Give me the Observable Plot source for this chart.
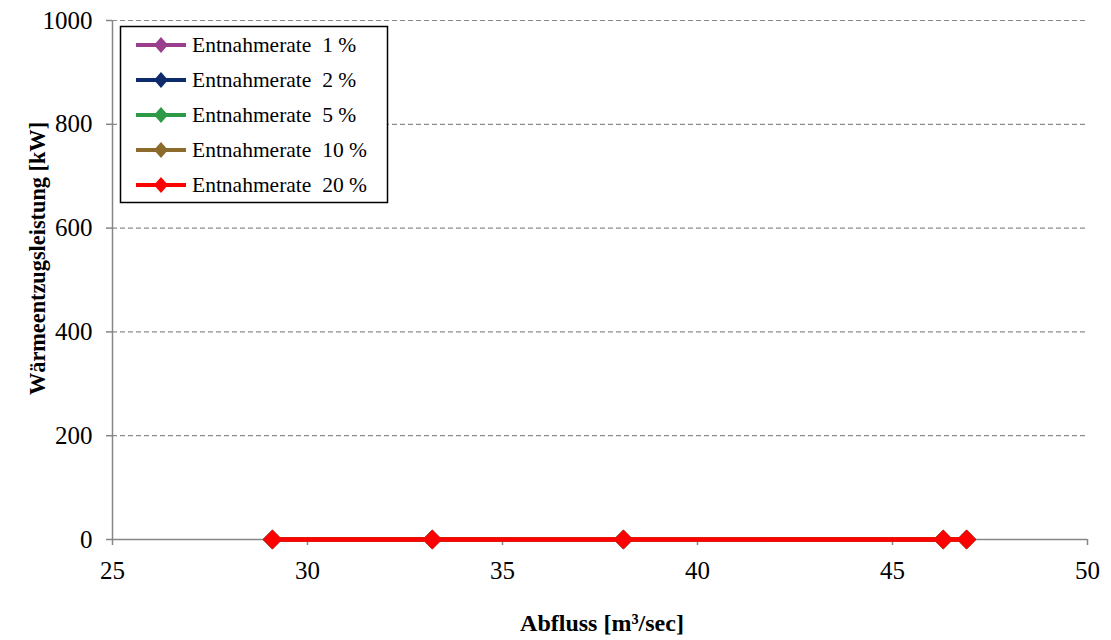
<!DOCTYPE html>
<html>
<head>
<meta charset="utf-8">
<script src="https://cdn.jsdelivr.net/npm/d3@7"></script>
<script src="https://cdn.jsdelivr.net/npm/@observablehq/plot@0.6"></script>
<style>
  html, body { margin: 0; padding: 0; background: #fff; }
  #chart svg { display: block; }
</style>
</head>
<body>
<div id="chart"></div>
<script>
// ---- data ----
const abfluss = [29.1, 33.2, 38.1, 46.3, 46.9];
const seriesNames = ["Entnahmerate 1 %", "Entnahmerate 2 %", "Entnahmerate 5 %", "Entnahmerate 10 %", "Entnahmerate 20 %"];
const rate1  = [0, 0, 0, 0, 0];
const rate2  = [0, 0, 0, 0, 0];
const rate5  = [0, 0, 0, 0, 0];
const rate10 = [0, 0, 0, 0, 0];
const rate20 = [0, 0, 0, 0, 0];
const seriesColors = ["#993f8e", "#0d2b6b", "#2e9a48", "#8b6a2b", "#ff0000"];
const xTicks = [25, 30, 35, 40, 45, 50];
const yTicks = [0, 200, 400, 600, 800, 1000];
const xTitle = "Abfluss [m³/sec]";
const yTitle = "Wärmeentzugsleistung [kW]";

const seriesValues = [rate1, rate2, rate5, rate10, rate20];
const rows = [];
seriesNames.forEach((name, i) => {
  seriesValues[i].forEach((v, j) => rows.push({series: name, x: abfluss[j], y: v, order: i}));
});

const font = "Liberation Serif";
const axisGrey = "#868686";

const marks = [
  Plot.gridY(yTicks.filter(d => d > 0), {stroke: "#8a8a8a", strokeOpacity: 1, strokeWidth: 1.2, strokeDasharray: "5,3"}),
  Plot.ruleX([25], {stroke: axisGrey, strokeWidth: 1.5}),
  Plot.ruleY([0], {stroke: axisGrey, strokeWidth: 1.5}),
  Plot.axisY({ticks: yTicks, tickFormat: d => String(d), tickSize: 6, tickPadding: 14, stroke: axisGrey, strokeWidth: 1.5, label: null, fontSize: 25, fontFamily: font, fill: "#000"}),
  Plot.axisX({ticks: xTicks, tickFormat: d => String(d), tickSize: 6, tickPadding: 16, stroke: axisGrey, strokeWidth: 1.5, label: null, fontSize: 25, fontFamily: font, fill: "#000"})
];
seriesNames.forEach((name, i) => {
  const data = rows.filter(r => r.series === name);
  marks.push(Plot.line(data, {x: "x", y: "y", stroke: seriesColors[i], strokeWidth: 4.5}));
  marks.push(Plot.dot(data, {x: "x", y: "y", symbol: "diamond2", r: 8.7, fill: seriesColors[i], stroke: null}));
});

const plot = Plot.plot({
  width: 1111,
  height: 640,
  marginLeft: 112,
  marginRight: 24,
  marginTop: 20,
  marginBottom: 101,
  style: {fontFamily: font, fontSize: "25px", background: "#fff", color: "#000"},
  x: {domain: [25, 50]},
  y: {domain: [0, 1000]},
  marks
});
document.getElementById("chart").appendChild(plot);

// Titles and legend appended to the SVG
const svg = d3.select(plot);
svg.append("text")
  .attr("x", 602).attr("y", 631)
  .attr("text-anchor", "middle")
  .attr("font-family", font).attr("font-weight", "bold").attr("font-size", 24)
  .text(xTitle);
svg.append("text")
  .attr("transform", "translate(45,258.5) rotate(-90)")
  .attr("text-anchor", "middle")
  .attr("font-family", font).attr("font-weight", "bold").attr("font-size", 22.3)
  .text(yTitle);

const lg = svg.append("g").attr("text-anchor", "start");
lg.append("rect").attr("x", 120.5).attr("y", 26.5).attr("width", 267).attr("height", 176)
  .attr("fill", "#fff").attr("stroke", "#000").attr("stroke-width", 1.5);
seriesNames.forEach((name, i) => {
  const cy = 45 + i * 35;
  lg.append("line").attr("x1", 136).attr("x2", 186).attr("y1", cy).attr("y2", cy)
    .attr("stroke", seriesColors[i]).attr("stroke-width", 4);
  lg.append("path").attr("d", `M161,${cy-8}L168,${cy}L161,${cy+8}L154,${cy}Z`).attr("fill", seriesColors[i]);
  lg.append("text").attr("x", 192).attr("y", cy + 7)
    .attr("text-anchor", "start")
    .attr("font-family", font).attr("font-size", 21.5).attr("fill", "#000")
    .style("white-space", "pre")
    .text(name.replace("Entnahmerate ", "Entnahmerate  "));
});
</script>
</body>
</html>
